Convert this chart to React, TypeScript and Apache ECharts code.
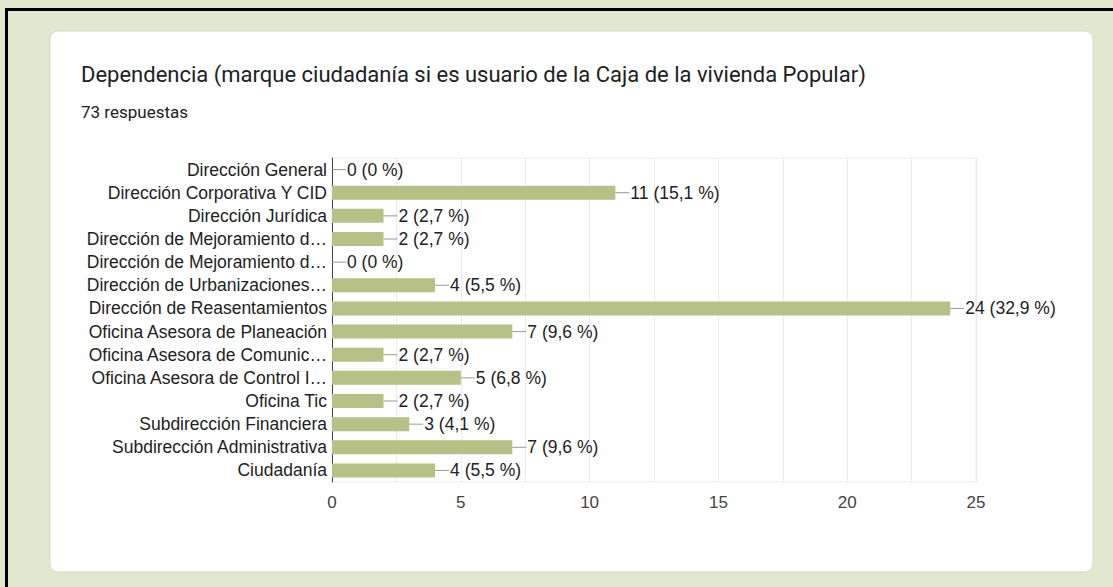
import React, { useEffect, useRef } from "react";
import * as echarts from "echarts";

const titleText = "Dependencia (marque ciudadanía si es usuario de la Caja de la vivienda Popular)";
const subtitleText = "73 respuestas";
const totalResponses = 73;

const categories = [
  "Dirección General",
  "Dirección Corporativa Y CID",
  "Dirección Jurídica",
  "Dirección de Mejoramiento d…",
  "Dirección de Mejoramiento d…",
  "Dirección de Urbanizaciones…",
  "Dirección de Reasentamientos",
  "Oficina Asesora de Planeación",
  "Oficina Asesora de Comunic…",
  "Oficina Asesora de Control I…",
  "Oficina Tic",
  "Subdirección Financiera",
  "Subdirección Administrativa",
  "Ciudadanía",
];

const counts = [0, 11, 2, 2, 0, 4, 24, 7, 2, 5, 2, 3, 7, 4];

const xTicks = [0, 5, 10, 15, 20, 25];

const fmtPct = (v: number) => {
  const p = (v / totalResponses) * 100;
  if (p === 0) return "0";
  return p.toFixed(1).replace(".", ",");
};

export default function App() {
  const ref = useRef<HTMLDivElement>(null);
  useEffect(() => {
    if (!ref.current) return;
    const chart = echarts.init(ref.current, undefined, { renderer: "svg" });
    const chartFont = "'Liberation Sans', Arial, sans-serif";
    chart.setOption({
      animation: false,
      backgroundColor: "#e2e7d0",
      graphic: [
        { type: "rect", z: -10, shape: { x: 5, y: 8, width: 1108, height: 3 }, style: { fill: "#000" } },
        { type: "rect", z: -10, shape: { x: 5, y: 8, width: 3, height: 579 }, style: { fill: "#000" } },
        {
          type: "rect",
          z: -10,
          shape: { x: 50, y: 31, width: 1043, height: 541, r: 8 },
          style: { fill: "#fff", stroke: "#d6d9cc", lineWidth: 1 },
        },
      ],
      title: [
        {
          text: titleText,
          left: 81,
          top: 63,
          padding: 0,
          textStyle: { fontFamily: "Roboto, sans-serif", fontSize: 22, fontWeight: "normal", color: "#202124" },
        },
        {
          text: subtitleText,
          left: 81,
          top: 103,
          padding: 0,
          textStyle: { fontFamily: "Roboto, sans-serif", fontSize: 17, fontWeight: "normal", color: "#202124" },
        },
      ],
      grid: {
        left: 332,
        right: 137,
        top: 158,
        bottom: 105,
        show: true,
        borderColor: "#ebebeb",
        borderWidth: 1,
      },
      xAxis: {
        type: "value",
        min: 0,
        max: 25,
        interval: 2.5,
        axisLine: { show: false },
        axisTick: { show: false },
        splitLine: { show: true, lineStyle: { color: "#ebebeb", width: 1 } },
        axisLabel: {
          margin: 12,
          color: "#444",
          fontSize: 17,
          fontFamily: chartFont,
          formatter: (v: number) => (xTicks.includes(v) ? String(v) : ""),
        },
      },
      yAxis: {
        type: "category",
        inverse: true,
        data: categories,
        axisLine: { show: true, lineStyle: { color: "#444", width: 1 } },
        axisTick: { show: false },
        splitLine: { show: false },
        axisLabel: { interval: 0, margin: 5, color: "#222", fontSize: 17.5, fontFamily: chartFont },
      },
      series: [
        {
          type: "bar",
          data: counts,
          barWidth: 14,
          itemStyle: { color: "#b5c186" },
          label: {
            show: true,
            position: "right",
            distance: 0,
            formatter: (p: any) => `{l|}{t|${p.value} (${fmtPct(p.value)} %)}`,
            rich: {
              l: { width: 14, height: 1, backgroundColor: "#999" },
              t: { color: "#222", fontSize: 17.5, fontFamily: chartFont, padding: [0, 0, 0, 1] },
            },
          },
        },
      ],
    });
    return () => chart.dispose();
  }, []);
  return (
    <div
      ref={ref}
      style={{ position: "fixed", left: 0, top: 0, width: 1113, height: 587 }}
    />
  );
}
